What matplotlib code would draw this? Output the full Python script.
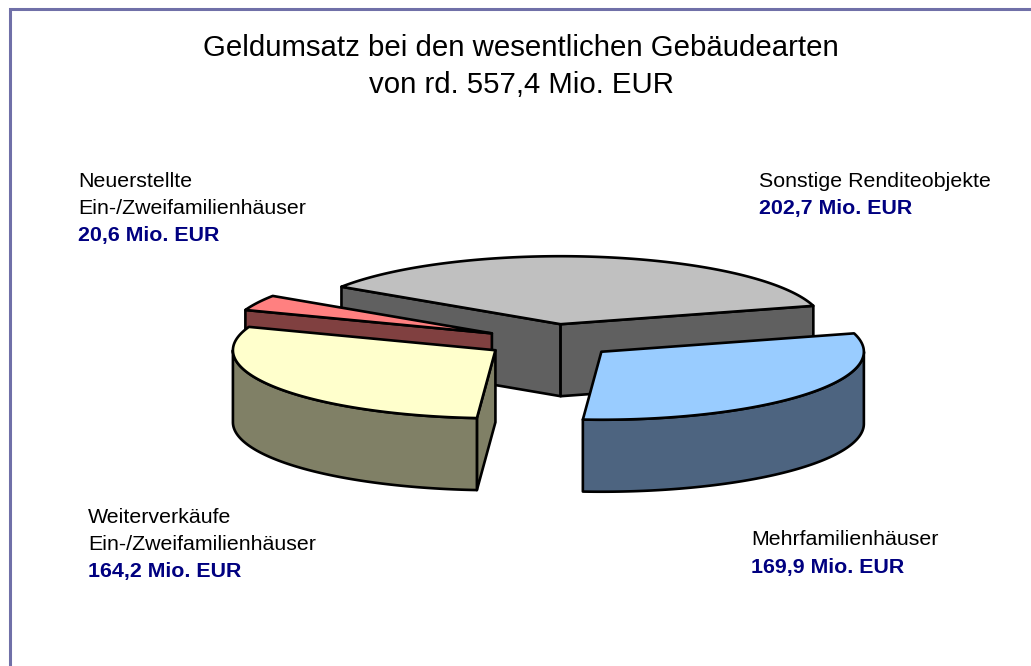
import numpy as np
import matplotlib
matplotlib.use('Agg')
import matplotlib.pyplot as plt
from matplotlib.patches import Polygon

plt.rcParams['font.family'] = ['Liberation Sans', 'DejaVu Sans']

# Data, order = clockwise from the start angle
names = ['Sonstige Renditeobjekte', 'Mehrfamilienhäuser',
         'Weiterverkäufe\nEin-/Zweifamilienhäuser',
         'Neuerstellte\nEin-/Zweifamilienhäuser']
values = [202.7, 169.9, 164.2, 20.6]
value_labels = ['202,7 Mio. EUR', '169,9 Mio. EUR', '164,2 Mio. EUR', '20,6 Mio. EUR']
top_colors = ['#C0C0C0', '#99CCFF', '#FFFFCC', '#FF8080']
side_colors = ['#606060', '#4D6480', '#808066', '#804040']

# Pie geometry in pixels
CX, CY = 550.5, 341
RX, RY = 262.5, 68
DEPTH = 72
EXPLODE = 0.25
START = 146.6
LW = 1.9
EDGE = 'black'
NAVY = '#000080'
DRAW_ORDER = [0, 3, 2, 1]  # back to front
LABEL_SIZE = 15.4


def arc(apex, a1, a2):
    t = np.radians(np.linspace(a1, a2, 120))
    return np.column_stack([apex[0] + RX * np.cos(t), apex[1] - RY * np.sin(t)])


def poly(ax, pts, color):
    ax.add_patch(Polygon(pts, closed=True, facecolor=color, edgecolor=EDGE,
                         linewidth=LW, joinstyle='round'))


def draw_slice(ax, a1, a2, top, side):
    """a1 > a2, clockwise from a1 to a2."""
    mid = np.radians((a1 + a2) / 2)
    apex = (CX + EXPLODE * RX * np.cos(mid), CY - EXPLODE * RY * np.sin(mid))
    down = np.array([0, DEPTH])

    # cut faces, only the ones that face the viewer
    if np.cos(np.radians(a1)) < 0:
        end = arc(apex, a1, a1)[0]
        poly(ax, [apex, end, end + down, np.array(apex) + down], side)
    if np.cos(np.radians(a2)) > 0:
        end = arc(apex, a2, a2)[0]
        poly(ax, [apex, end, end + down, np.array(apex) + down], side)

    # outer wall, only the part facing the viewer (angles 0 to -180)
    w1 = min(a1, 0)
    w2 = max(a2, -180)
    if w1 > w2:
        outer = arc(apex, w1, w2)
        poly(ax, np.vstack([outer, (outer + down)[::-1]]), side)

    # top face
    poly(ax, np.vstack([[apex], arc(apex, a1, a2)]), top)


def label(ax, x, baselines, name, value):
    """Name lines in black, value line in bold navy under them."""
    for line, y in zip(name.split('\n'), baselines):
        ax.text(x, y, line, fontsize=LABEL_SIZE, ha='left', va='baseline')
    ax.text(x, baselines[-1], value, fontsize=LABEL_SIZE, ha='left', va='baseline',
            color=NAVY, fontweight='bold')


fig = plt.figure(figsize=(10.31, 6.66), dpi=100)
ax = fig.add_axes([0, 0, 1, 1])
ax.set_xlim(0, 1031)
ax.set_ylim(666, 0)
ax.axis('off')

# Frame, runs off the right and bottom of the picture
ax.plot([9.5, 9.5, 1031], [666, 8.5, 8.5], color='#7070A8', lw=2.2,
        solid_joinstyle='miter')

sweeps = np.array(values) / sum(values) * 360
starts = START - np.concatenate([[0], np.cumsum(sweeps)[:-1]])
for i in DRAW_ORDER:
    draw_slice(ax, starts[i], starts[i] - sweeps[i], top_colors[i], side_colors[i])

ax.text(521, 56, 'Geldumsatz bei den wesentlichen Gebäudearten', fontsize=21.2,
        ha='center', va='baseline', color='black')
ax.text(521, 93, 'von rd. 557,4 Mio. EUR', fontsize=21.2,
        ha='center', va='baseline', color='black')

label(ax, 759, (187, 214), names[0], value_labels[0])
label(ax, 751, (545, 573), names[1], value_labels[1])
label(ax, 88, (523, 550, 577), names[2], value_labels[2])
label(ax, 78, (187, 214, 241), names[3], value_labels[3])

fig.savefig('out.png', dpi=100, facecolor='white')
